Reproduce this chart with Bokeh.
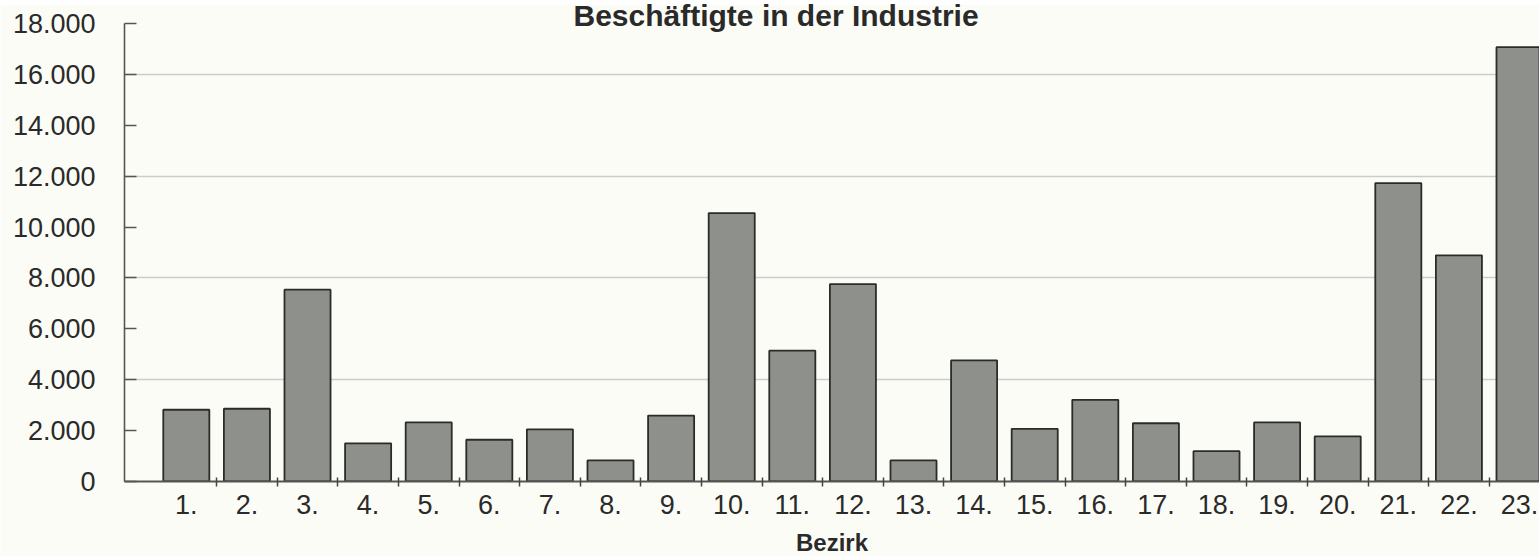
from bokeh.plotting import figure
from bokeh.models import Range1d, FixedTicker
from bokeh.embed import file_html
from bokeh.resources import INLINE

# data
bezirke = [f"{i}." for i in range(1, 24)]
positions = list(range(1, 24))
beschaeftigte = [2820, 2860, 7540, 1500, 2320, 1640, 2050, 830, 2590, 10550,
                 5140, 7760, 830, 4760, 2070, 3210, 2290, 1190, 2320, 1770,
                 11730, 8890, 17070]
y_ticks = [0, 2000, 4000, 6000, 8000, 10000, 12000, 14000, 16000, 18000]
y_tick_labels = ["0", "2.000", "4.000", "6.000", "8.000", "10.000", "12.000",
                 "14.000", "16.000", "18.000"]
grid_values = [4000, 8000, 12000, 16000]
boundaries = [i + 0.5 for i in range(1, 23)]

BG = "#fcfcf7"
TXT = "#2a2a2a"
FONT = "Liberation Sans"

p = figure(frame_width=1415, frame_height=458,
           x_range=Range1d(-0.02, 23.33), y_range=Range1d(0, 18000),
           output_backend="svg", toolbar_location=None,
           min_border_left=124, min_border_right=0, min_border_top=0,
           min_border_bottom=0,
           background_fill_color=BG, border_fill_color=BG,
           title="Beschäftigte in der Industrie")
p.outline_line_color = None
p.styles = {"margin-top": "4px", "margin-bottom": "-40px"}

p.title.text_font = FONT
p.title.text_font_size = "30px"
p.title.text_font_style = "bold"
p.title.text_color = TXT
p.title.align = "left"
p.title.offset = 449
p.title.standoff = -16

p.vbar(x=positions, top=beschaeftigte, width=0.76, bottom=0,
       fill_color="#8d908b", line_color="#2a2c29", line_width=1.8)

# grid
p.xgrid.visible = False
p.ygrid.ticker = FixedTicker(ticks=grid_values)
p.ygrid.grid_line_color = "#cccccc"
p.ygrid.grid_line_width = 1.3

# y axis
ya = p.yaxis[0]
ya.ticker = FixedTicker(ticks=y_ticks)
ya.major_label_overrides = {t: l for t, l in zip(y_ticks, y_tick_labels)}
ya.major_tick_in = 12
ya.major_tick_out = 0
ya.minor_tick_in = 0
ya.minor_tick_out = 0
ya.major_label_standoff = 29
ya.axis_line_color = "#555555"
ya.axis_line_width = 1.6
ya.major_tick_line_color = "#555555"
ya.major_tick_line_width = 1.6
ya.major_label_text_font = FONT
ya.major_label_text_font_size = "27px"
ya.major_label_text_color = TXT

# x axis
xa = p.xaxis[0]
xa.ticker = FixedTicker(ticks=positions, minor_ticks=boundaries)
xa.major_label_overrides = {t: l for t, l in zip(positions, bezirke)}
xa.major_tick_in = 0
xa.major_tick_out = 0
xa.minor_tick_in = 4
xa.minor_tick_out = 5
xa.minor_tick_line_color = "#444444"
xa.minor_tick_line_width = 1.5
xa.axis_line_color = "#555555"
xa.axis_line_width = 1.8
xa.major_label_standoff = 8
xa.major_label_text_font = FONT
xa.major_label_text_font_size = "27px"
xa.major_label_text_color = TXT
xa.axis_label = "Bezirk"
xa.axis_label_text_font = FONT
xa.axis_label_text_font_size = "24px"
xa.axis_label_text_font_style = "bold"
xa.axis_label_text_color = TXT
xa.axis_label_standoff = 12

open("out.html", "w").write(file_html(p, INLINE))
